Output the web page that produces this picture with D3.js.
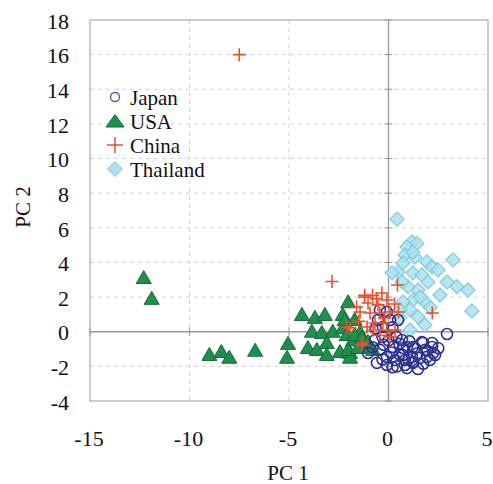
<!DOCTYPE html>
<html><head><meta charset="utf-8">
<script src="https://cdn.jsdelivr.net/npm/d3@7"></script>
<style>body{margin:0;background:#fff}svg{display:block}</style>
</head><body>
<svg id="c" width="493" height="484"></svg>
<script>
const seriesNames = ["Japan","USA","China","Thailand"];
const xTicks = [-15,-10,-5,0,5];
const yTicks = [-4,-2,0,2,4,6,8,10,12,14,16,18];

const japan = [[2.94,-0.13],[1.68,-0.6],[2.19,-0.65],[0.93,-0.88],[1.33,-0.94],[1.83,-1.05],[2.24,-1.23],[0.73,-1.34],[1.18,-1.45],[1.58,-1.5],[2.08,-1.63],[0.83,-1.92],[1.23,-1.75],[0.68,-0.48],
  [-0.43,1.26],[-0.08,1.14],[-0.53,0.68],[0.08,0.68],[-0.28,0.27],[0.48,0.68],[-0.68,-0.48],[-1.03,-1.23],[-0.08,-1.45],[-0.08,-1.92],[0.33,-1.63],[0.73,-0.94],[0.83,-1.63],[0.43,-2.0],[1.23,-1.8],[1.73,-0.65],[2.19,-0.88],[2.34,-1.34],[1.93,-1.45],[1.23,-0.88],[-0.43,-1.05],[-0.58,-1.8],[0.23,-0.88],[0.93,-2.1],[1.48,-2.15],[0.0,-0.5],[0.4,-0.3],[-0.3,-0.3],
  [-0.8,-0.9],[-0.3,-1.6],[0.15,-1.2],[0.55,-1.3],[1.0,-1.6],[1.45,-1.25],[1.75,-1.85],[0.2,-2.05],[-0.25,-0.75],[0.55,-0.7],[1.05,-0.55],[1.95,-1.1],[2.5,-0.95],[-0.65,0.2],[0.2,0.25]];
const usa = [[-12.3,3.1],[-11.9,1.9],[-9.0,-1.34],[-8.4,-1.17],[-8.0,-1.5],[-6.7,-1.1],[-5.05,-0.7],[-5.1,-1.5],
  [-4.35,0.97],[-3.7,0.8],[-3.2,0.97],[-2.03,1.7],[-3.85,0],[-3.35,-0.07],[-2.8,0],[-2.3,0.2],[-2.3,0.97],[-4.05,-0.94],[-3.6,-1.05],[-3.1,-0.65],[-3.1,-1.34],[-2.44,-1.17],[-1.93,-1.23],[-1.78,-0.5],[-1.43,-0.05],[-1.93,-1.5],[-1.28,-0.88],
  [-2.2,0.68],[-1.7,0.68],[-2.1,-0.19],[-1.7,-0.19],[-1.33,-0.36],[-1.03,-0.6],[-2.03,-1.05],[-1.53,-0.94],[-0.78,-1.05]];
const china = [[-7.5,16.0],[-2.84,2.9],[2.2,1.08],[0.45,2.7],[-1.2,2.0],[-1.6,1.43],[-2.1,0.27],[-1.3,-0.65],[0.5,1.14],
  [-1.2,2.1],[-0.8,2.1],[-0.33,2.24],[-1.03,1.66],[-0.53,1.55],[-0.08,1.83],[-1.43,1.14],[-0.93,1.08],[-0.43,1.08],[0.08,1.14],[-0.68,0.5],[-0.28,0.5],[-0.08,0.1],[0.33,0.1],[-0.43,-0.2],[0.08,-0.3],[-1.93,0.22],[-1.33,-0.76],[-1.08,0.27],[-0.78,0.1],
  [-0.6,1.9],[-1.5,0.6],[-0.2,0.8],[0.3,1.6]];
const thailand = [[0.43,6.5],[1.18,5.18],[1.43,5.1],[0.93,4.9],[0.83,4.43],[1.33,4.3],[1.93,4.03],[3.24,4.15],[0.48,3.45],[0.73,3.97],[2.19,3.74],[2.49,3.57],[1.23,3.4],[1.68,3.28],[0.18,3.4],[1.98,2.87],[2.94,2.87],[3.44,2.6],[3.99,2.41],[2.59,2.12],[1.48,2.41],[0.98,2.6],[0.68,2.87],[1.23,1.83],[1.83,1.72],[0.73,1.72],[1.08,1.26],[4.19,1.2],[0.58,0.8],[1.48,0.86],[1.83,0.39],[1.08,0.1],[0.58,1.26],[1.23,4.6],[1.6,2.0],[2.1,1.4]];

const svg = d3.select("#c");
const L=90,R=488,T=20,B=401;
const x = d3.scaleLinear().domain([-15,5]).range([L,R]);
const y = d3.scaleLinear().domain([-4,18]).range([B,T]);
const font = "'Liberation Serif','Times New Roman',serif";

// grid
const g = svg.append("g");
g.selectAll(".gy").data(yTicks.filter(d=>d!==0 && d!==-4 && d!==18)).enter().append("line")
  .attr("x1",L).attr("x2",R).attr("y1",d=>y(d)).attr("y2",d=>y(d))
  .attr("stroke","#d4d4d4").attr("stroke-dasharray","4,4").attr("stroke-width",1);
g.selectAll(".gx").data(xTicks.filter(d=>d!==0 && d!==-15 && d!==5)).enter().append("line")
  .attr("y1",T).attr("y2",B).attr("x1",d=>x(d)).attr("x2",d=>x(d))
  .attr("stroke","#d4d4d4").attr("stroke-dasharray","4,4").attr("stroke-width",1);
// box
svg.append("rect").attr("x",L).attr("y",T).attr("width",R-L).attr("height",B-T)
  .attr("fill","none").attr("stroke","#aaa").attr("stroke-width",1.2);
// zero axes
svg.append("line").attr("x1",L).attr("x2",R).attr("y1",y(0)).attr("y2",y(0)).attr("stroke","#999").attr("stroke-width",1.3);
svg.append("line").attr("x1",x(0)).attr("x2",x(0)).attr("y1",T).attr("y2",B).attr("stroke","#999").attr("stroke-width",1.3);
svg.selectAll(".ty").data(yTicks).enter().append("line")
  .attr("x1",x(0)-4).attr("x2",x(0)+4).attr("y1",d=>y(d)).attr("y2",d=>y(d)).attr("stroke","#999");
svg.selectAll(".tx").data(xTicks).enter().append("line")
  .attr("y1",y(0)-4).attr("y2",y(0)+4).attr("x1",d=>x(d)).attr("x2",d=>x(d)).attr("stroke","#999");

// tick labels
svg.selectAll(".ly").data(yTicks).enter().append("text")
  .attr("x",69).attr("y",d=>y(d)+1).attr("dy","0.35em").attr("text-anchor","end")
  .attr("font-family",font).attr("font-size",22).attr("fill","#111").text(d=>d);
svg.selectAll(".lx").data(xTicks).enter().append("text")
  .attr("x",d=>x(d)-1).attr("y",438).attr("dy","0.35em").attr("text-anchor","middle")
  .attr("font-family",font).attr("font-size",22).attr("fill","#111").text(d=>d);
svg.append("text").attr("x",288).attr("y",473).attr("dy","0.35em").attr("text-anchor","middle")
  .attr("font-family",font).attr("font-size",21).attr("fill","#111").text("PC 1");
svg.append("text").attr("transform","translate(23,207) rotate(-90)").attr("dy","0.35em").attr("text-anchor","middle")
  .attr("font-family",font).attr("font-size",21).attr("fill","#111").text("PC 2");

// marker drawers
const mk = {
  Thailand: (sel)=>sel.append("path").attr("d","M0,-7L7,0L0,7L-7,0Z").attr("fill","#abe0ec").attr("stroke","#7fcadd").attr("stroke-width",1.2).attr("fill-opacity",0.85),
  USA: (sel)=>sel.append("path").attr("d","M0,-7.5L7.5,5.5L-7.5,5.5Z").attr("fill","#1f8f4e").attr("stroke","#136b38").attr("stroke-width",1),
  Japan: (sel)=>sel.append("circle").attr("r",5.5).attr("fill","none").attr("stroke","#2e3190").attr("stroke-width",1.6),
  China: (sel)=>sel.append("path").attr("d","M-6.5,0H6.5M0,-6.5V6.5").attr("fill","none").attr("stroke","#e8502c").attr("stroke-width",1.6)
};
const dataBy = {Japan:japan,USA:usa,China:china,Thailand:thailand};
["Thailand","USA","Japan","China"].forEach(name=>{
  const grp = svg.append("g");
  const pts = grp.selectAll("g").data(dataBy[name]).enter().append("g")
    .attr("transform",d=>`translate(${x(d[0])},${y(d[1])})`);
  mk[name](pts);
});

// legend
const lg = svg.append("g");
seriesNames.forEach((name,i)=>{
  const yy = 97 + i*24;
  const m = lg.append("g").attr("transform",`translate(115,${yy})`);
  if(name==="Japan") m.append("circle").attr("r",4.5).attr("fill","none").attr("stroke","#5a5aa8").attr("stroke-width",1.4);
  if(name==="USA") m.append("path").attr("d","M0,-6.5L9,6L-9,6Z").attr("fill","#1f8f4e").attr("stroke","#136b38");
  if(name==="China") m.append("path").attr("d","M-8,0H8M0,-8V8").attr("stroke","#e8502c").attr("stroke-width",1.5);
  if(name==="Thailand") m.append("path").attr("d","M0,-7.5L7.5,0L0,7.5L-7.5,0Z").attr("fill","#abe0ec").attr("stroke","#7fcadd");
  lg.append("text").attr("x",130).attr("y",yy+1).attr("dy","0.35em").attr("font-family",font).attr("font-size",21).attr("fill","#111").text(name);
});
</script>
</body></html>
